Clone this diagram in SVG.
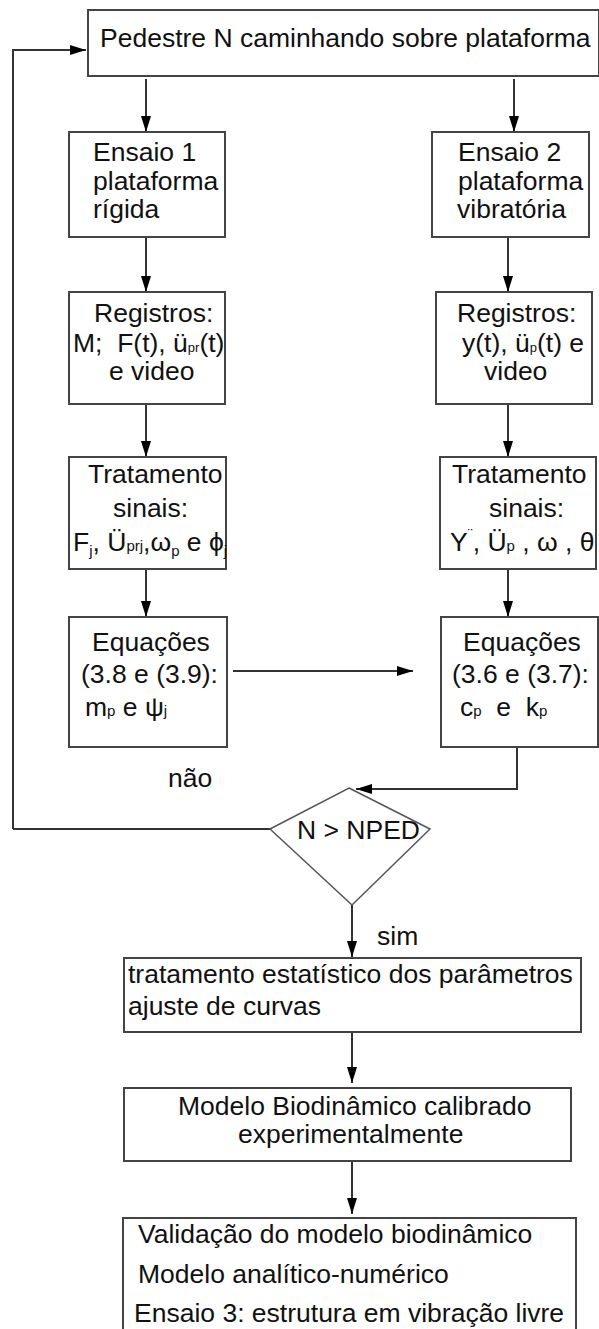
<svg xmlns="http://www.w3.org/2000/svg" width="599" height="1329" viewBox="0 0 599 1329">
<defs>
<marker id="ah" markerWidth="16" markerHeight="10" refX="16" refY="5" orient="auto" markerUnits="userSpaceOnUse">
<path d="M0,0 L16,5 L0,10 Z" fill="#000"/>
</marker>
<style>
.box{fill:#fff;stroke:#444;stroke-width:2}
.ln{fill:none;stroke:#333;stroke-width:2}
text{font-family:"Liberation Sans",Arial,sans-serif;font-size:26.5px;fill:#111}
.s{font-size:15px}
.t{font-size:13px}
</style>
</defs>
<rect width="599" height="1329" fill="#fff"/>
<g id="connectors">
<path class="ln" d="M13,829 L13,50 L86,50" marker-end="url(#ah)"/>
<path class="ln" d="M146,79 L146,132" marker-end="url(#ah)"/>
<path class="ln" d="M514,79 L514,132" marker-end="url(#ah)"/>
<path class="ln" d="M146,238 L146,292" marker-end="url(#ah)"/>
<path class="ln" d="M508,238 L508,292" marker-end="url(#ah)"/>
<path class="ln" d="M146,404 L146,457" marker-end="url(#ah)"/>
<path class="ln" d="M508,404 L508,457" marker-end="url(#ah)"/>
<path class="ln" d="M146,569 L146,617" marker-end="url(#ah)"/>
<path class="ln" d="M508,569 L508,617" marker-end="url(#ah)"/>
<path class="ln" d="M233,671 L413,671" marker-end="url(#ah)"/>
<path class="ln" d="M517,747 L517,789 L356,789" marker-end="url(#ah)"/>
<path class="ln" d="M270,829 L13,829"/>
<path class="ln" d="M352,905 L352,957" marker-end="url(#ah)"/>
<path class="ln" d="M352,1033 L352,1083" marker-end="url(#ah)"/>
<path class="ln" d="M352,1162 L352,1214" marker-end="url(#ah)"/>
</g>
<g id="n-top">
<rect class="box" x="88" y="10" width="511" height="66"/>
<text x="100" y="47">Pedestre N caminhando sobre plataforma</text>
</g>
<g id="n-ensaio1">
<rect class="box" x="69" y="132" width="156" height="105"/>
<text x="93" y="161">Ensaio 1</text>
<text x="93" y="190">plataforma</text>
<text x="93" y="218">rígida</text>
</g>
<g id="n-ensaio2">
<rect class="box" x="432" y="132" width="157" height="105"/>
<text x="458" y="161">Ensaio 2</text>
<text x="458" y="190">plataforma</text>
<text x="457" y="218">vibratória</text>
</g>
<g id="n-reg1">
<rect class="box" x="69" y="292" width="156" height="112"/>
<text x="94" y="322">Registros:</text>
<text x="73" y="352">M;&#160; F(t), ü<tspan class="t">pr</tspan>(t)</text>
<text x="109" y="380">e video</text>
</g>
<g id="n-reg2">
<rect class="box" x="436" y="292" width="156" height="112"/>
<text x="457" y="322">Registros:</text>
<text x="462" y="352">y(t), ü<tspan class="t">p</tspan>(t) e</text>
<text x="484" y="380">video</text>
</g>
<g id="n-trat1">
<rect class="box" x="69" y="457" width="157" height="112"/>
<text x="88" y="483">Tratamento</text>
<text x="113" y="517">sinais:</text>
<text x="73" y="551">F<tspan class="s" dy="5">j</tspan><tspan dy="-5">, Ü</tspan><tspan class="s">prj</tspan>,ω<tspan class="s" dy="5">p</tspan><tspan dy="-5"> e ϕ</tspan><tspan class="s" dy="5">j</tspan></text>
</g>
<g id="n-trat2">
<rect class="box" x="440" y="457" width="156" height="112"/>
<text x="452" y="483">Tratamento</text>
<text x="489" y="517">sinais:</text>
<text x="450" y="551">Y<tspan class="s" dy="-12">¨</tspan><tspan dy="12">, Ü</tspan><tspan class="s">p</tspan> ,  ω , θ</text>
</g>
<g id="n-eq1">
<rect class="box" x="69" y="617" width="158" height="130"/>
<text x="92" y="651">Equações</text>
<text x="81" y="683">(3.8 e (3.9):</text>
<text x="85" y="716">m<tspan class="s">p</tspan> e  ψ<tspan class="s">j</tspan></text>
</g>
<g id="n-eq2">
<rect class="box" x="441" y="617" width="157" height="130"/>
<text x="463" y="651">Equações</text>
<text x="452" y="683">(3.6 e (3.7):</text>
<text x="460" y="716">c<tspan class="s">p</tspan>&#160; e&#160; k<tspan class="s">p</tspan></text>
</g>
<g id="n-dec">
<polygon points="349,788 430,829 352,905 270,829" fill="#fff" stroke="#555" stroke-width="1.5"/>
<text x="297" y="839">N &gt; NPED</text>
</g>
<g id="labels">
<text x="168" y="787">não</text>
<text x="377" y="945">sim</text>
</g>
<g id="n-stat">
<rect class="box" x="124" y="958" width="457" height="74"/>
<text x="128" y="983">tratamento estatístico dos parâmetros</text>
<text x="128" y="1015">ajuste de curvas</text>
</g>
<g id="n-modelo">
<rect class="box" x="124" y="1088" width="447" height="73"/>
<text x="178" y="1115">Modelo Biodinâmico calibrado</text>
<text x="238" y="1143">experimentalmente</text>
</g>
<g id="n-valid">
<rect class="box" x="123" y="1218" width="453" height="130"/>
<text x="138" y="1243">Validação do modelo biodinâmico</text>
<text x="138" y="1283">Modelo analítico-numérico</text>
<text x="134" y="1322">Ensaio 3: estrutura em vibração livre</text>
</g>
</svg>
